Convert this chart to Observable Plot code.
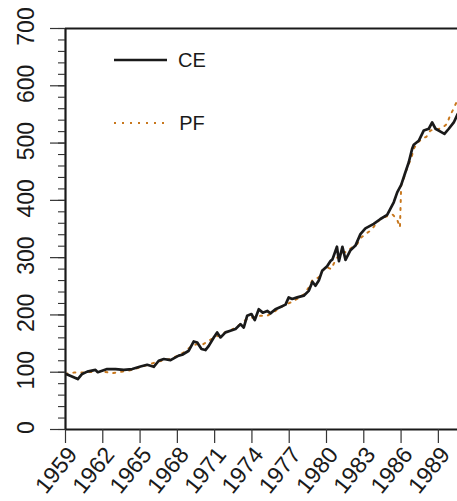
<!DOCTYPE html>
<html>
<head>
<meta charset="utf-8">
<script src="https://cdn.jsdelivr.net/npm/d3@7"></script>
<script src="https://cdn.jsdelivr.net/npm/@observablehq/plot@0.6"></script>
<style>
  html, body { margin: 0; padding: 0; background: #fff; }
  #chart { width: 457px; height: 501px; }
</style>
</head>
<body>
<div id="chart"></div>
<script>
// ---- data ----
const ceYear = [1959.00,1959.14,1959.80,1959.99,1960.34,1960.75,1961.41,1961.60,1962.35,1963.02,1963.69,1964.37,1965.03,1965.57,1966.10,1966.50,1966.91,1967.45,1967.85,1968.11,1968.39,1968.92,1969.32,1969.60,1969.94,1970.26,1970.53,1970.93,1971.20,1971.47,1971.87,1972.27,1972.68,1973.08,1973.34,1973.62,1973.96,1974.23,1974.55,1974.87,1975.23,1975.49,1975.89,1976.30,1976.70,1976.96,1977.24,1977.64,1978.17,1978.57,1978.87,1979.11,1979.38,1979.65,1980.05,1980.32,1980.48,1980.84,1981.00,1981.28,1981.53,1981.93,1982.33,1982.73,1983.13,1983.80,1984.34,1984.88,1985.41,1985.69,1986.01,1986.30,1986.62,1986.89,1987.02,1987.42,1987.83,1988.23,1988.50,1988.77,1989.17,1989.49,1989.84,1990.24,1990.56];
const ceValue = [97,96,90,88,97,101,104,100,105.5,105.5,104,105.5,110,113,109.5,120,123,121,126,129,130.5,137.5,153.7,152,140.5,138.7,146,160.7,169.5,160.7,169.5,172.4,175.4,184,178,198.6,201.6,191,210,204,207,202.7,210,214,218,230.6,227.8,230.6,233.6,242,258,251,260,277,285,294,297,319,294,319,296,313,321,341,351,359,367.5,374.5,396.6,414,427,446,466.5,490,497,504,522,525,536,525,520,516,525,536,551];

const pfYear = [1959.00,1959.72,1960.39,1961.01,1961.60,1962.16,1962.80,1963.37,1964.04,1964.58,1965.17,1965.73,1966.30,1966.91,1967.45,1968.03,1968.52,1969.00,1969.54,1970.08,1970.61,1971.12,1971.65,1972.19,1972.73,1973.16,1973.62,1974.15,1974.69,1975.23,1975.68,1976.22,1976.70,1977.24,1977.77,1978.23,1978.57,1978.85,1979.38,1979.65,1980.05,1980.38,1980.64,1980.91,1981.26,1981.66,1982.07,1982.47,1982.79,1983.13,1983.59,1983.94,1984.34,1984.80,1985.33,1985.69,1985.91,1986.01,1986.22,1986.41,1986.62,1986.84,1987.02,1987.30,1987.70,1988.04,1988.36,1988.90,1989.35,1989.71,1989.92,1990.19,1990.43,1990.56];
const pfValue = [97,99.6,99.6,100.5,100.5,100.5,98.5,100.5,102.5,105.5,110,113.5,117.7,121,123,128.8,134.5,143,149,149,156,162,167.7,172.4,178,186,193,195.7,198.6,198.6,204,212,218,223,229.6,236.5,248,260,265.6,277,283,280,292,301.7,306,312,318,324,335,341,348,357.6,367.5,371.6,375,366,353,427,438.5,452,463.6,475,490,500,508,511,522,523.6,527,534,547,558.5,570,575];

const xTicks = [1959,1962,1965,1968,1971,1974,1977,1980,1983,1986,1989];
const yMajor = [0,100,200,300,400,500,600,700];
const yMinor = d3.range(0, 701, 20);
const seriesNames = ["CE", "PF"];

const ce = ceYear.map((t, i) => ({t, v: ceValue[i]}));
const pf = pfYear.map((t, i) => ({t, v: pfValue[i]}));

const ORANGE = "#c8781e";
const INK = "#1a1a1a";
const FONT = "'Liberation Sans', Arial, Helvetica, sans-serif";

const chart = Plot.plot({
  width: 457,
  height: 501,
  marginLeft: 65,
  marginRight: 0,
  marginTop: 28,
  marginBottom: 72,
  x: {domain: [1959, 1990.54], axis: null},
  y: {domain: [0, 700], axis: null},
  style: {fontFamily: FONT, background: "#fff", color: INK, overflow: "visible"},
  marks: [
    Plot.line(pf, {x: "t", y: "v", stroke: ORANGE, strokeWidth: 2, strokeDasharray: "2,6", clip: true}),
    Plot.line(ce, {x: "t", y: "v", stroke: INK, strokeWidth: 2.7, clip: true}),
    Plot.ruleY([0, 700], {stroke: INK, strokeWidth: 2.2}),
    Plot.ruleX([1959], {stroke: INK, strokeWidth: 2.2}),
    Plot.axisY({ticks: yMinor, tickSize: 7, tickFormat: () => "", label: null, stroke: "#333", strokeWidth: 1.1}),
    Plot.axisY({ticks: yMajor, tickSize: 15, tickFormat: () => "", label: null, stroke: "#333", strokeWidth: 1.2}),
    Plot.axisX({ticks: xTicks, tickSize: 14, tickFormat: () => "", label: null, stroke: "#333", strokeWidth: 1.2}),
    Plot.text(yMajor, {y: d => d, text: d => String(d), frameAnchor: "left", dx: -39, dy: -2, rotate: -90,
      textAnchor: "middle", lineAnchor: "middle", fontSize: 23, fill: INK}),
    Plot.text(xTicks, {x: d => d, text: d => String(d), frameAnchor: "bottom", dx: 7, dy: 21, rotate: -51,
      textAnchor: "end", lineAnchor: "middle", fontSize: 23, fill: INK})
  ]
});

document.getElementById("chart").appendChild(chart);

// legend
const svg = d3.select(chart);
const leg = svg.append("g").attr("font-family", FONT).attr("font-size", 20).attr("fill", INK);
const legendRows = [
  {name: seriesNames[0], y: 60, stroke: INK, w: 2.6, dash: null},
  {name: seriesNames[1], y: 123, stroke: ORANGE, w: 2, dash: "2,6"}
];
legendRows.forEach(r => {
  leg.append("line").attr("x1", 114).attr("x2", 167).attr("y1", r.y).attr("y2", r.y)
    .attr("stroke", r.stroke).attr("stroke-width", r.w).attr("stroke-dasharray", r.dash);
  leg.append("text").attr("x", 192).attr("y", r.y).attr("dy", "0.35em").text(r.name);
});
</script>
</body>
</html>
